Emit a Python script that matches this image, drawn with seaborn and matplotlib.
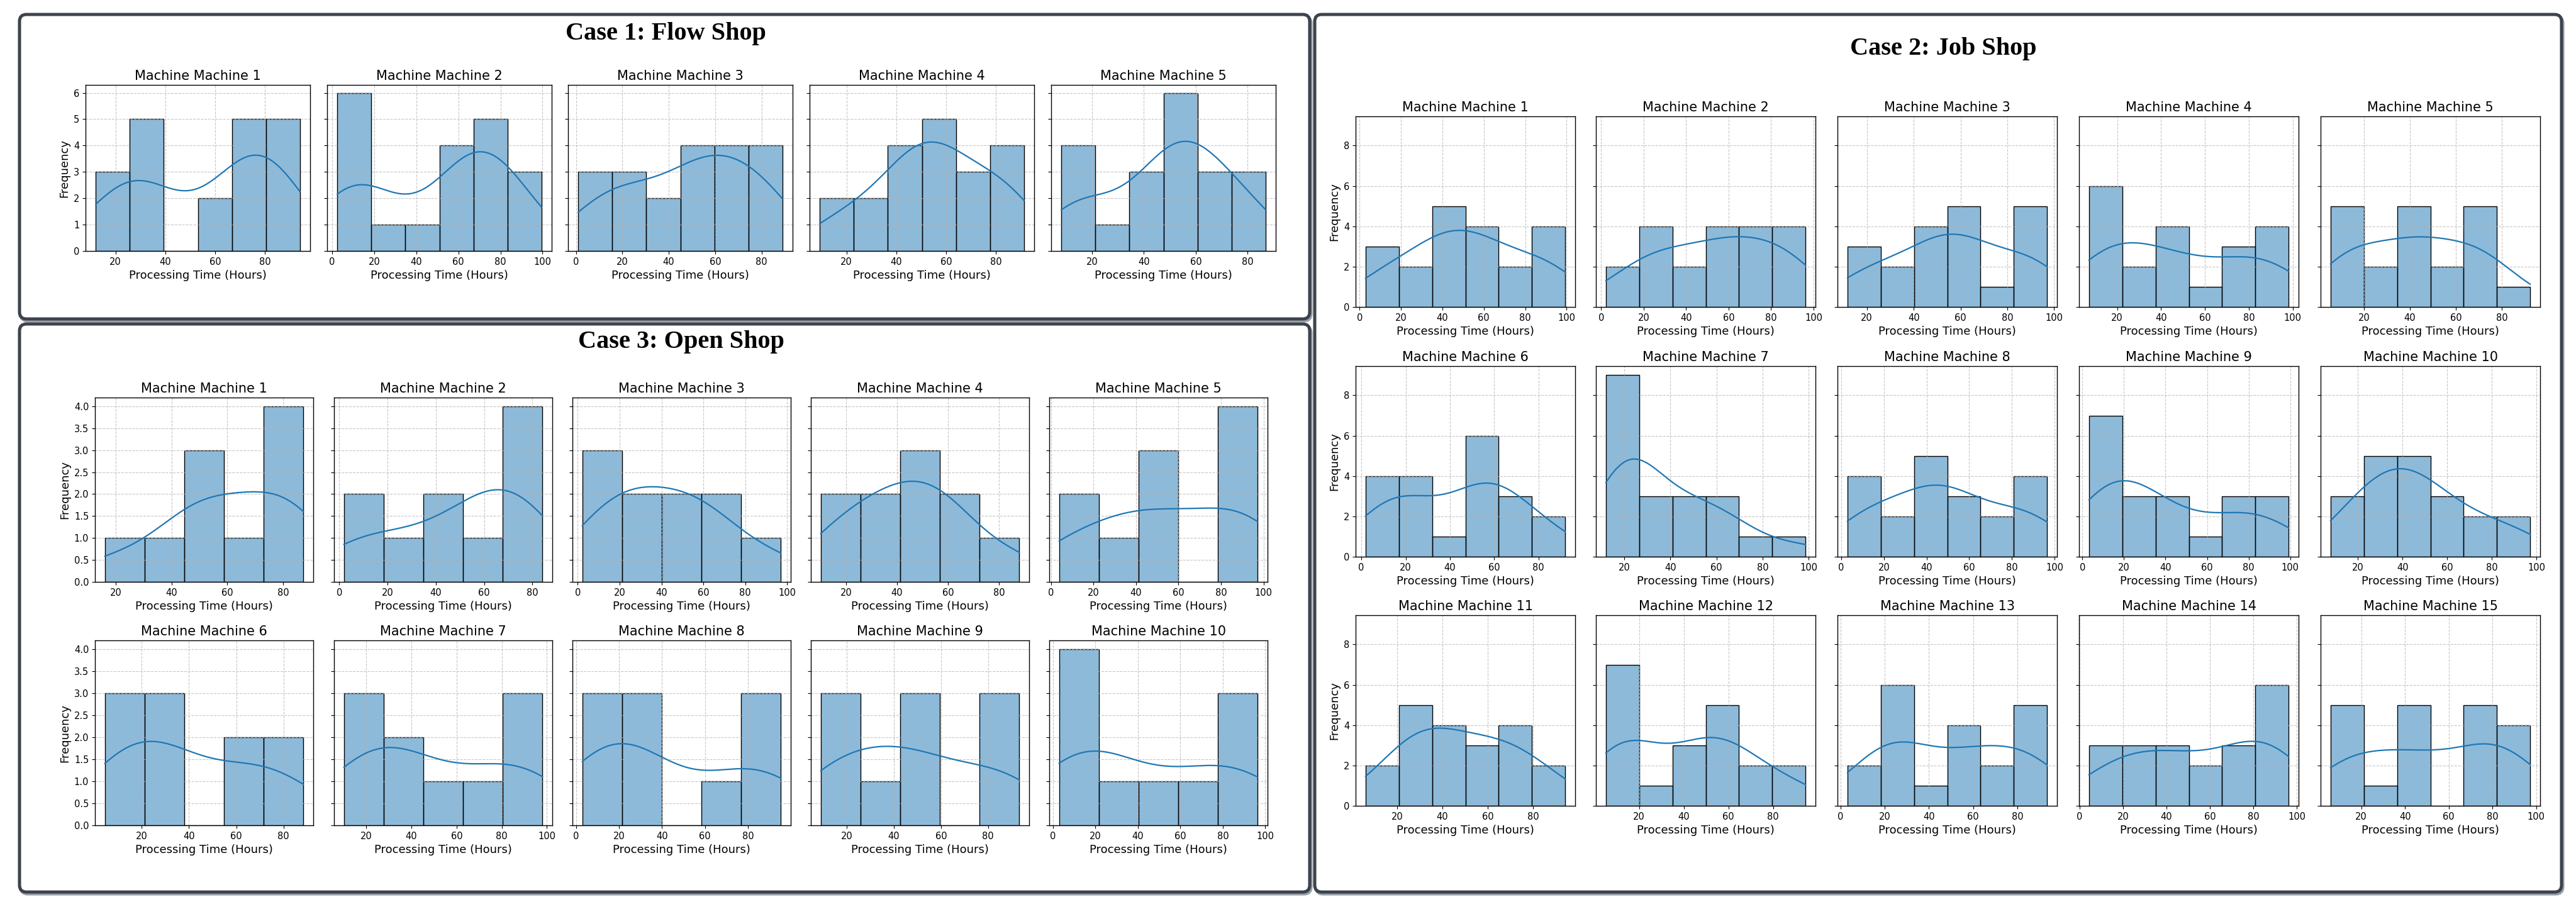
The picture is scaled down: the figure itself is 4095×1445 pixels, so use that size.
import matplotlib
matplotlib.use("Agg")
import matplotlib.pyplot as plt
import seaborn as sns
from matplotlib.patches import FancyBboxPatch
from matplotlib.ticker import MultipleLocator

# ---------------- data: processing times (hours) per machine ----------------
# Case 1: Flow Shop (20 jobs per machine)
FLOW_M1 = [12.1, 17, 22, 27, 29, 32, 35, 38, 55, 63, 67, 70, 73, 76, 79, 81, 82.5, 84, 86, 94.0]
FLOW_M2 = [2.5, 5, 8, 11, 14, 17, 27, 42, 55, 60, 63, 66, 68, 70, 73, 76, 80, 84, 87, 99.5]
FLOW_M3 = [1, 8, 13, 18, 24, 28, 35, 42, 47, 51, 54, 57, 61, 64, 68, 72, 76, 81, 85, 89]
FLOW_M4 = [9.3, 19, 27, 33, 39, 43, 46, 49, 51, 53, 56, 59, 62, 66, 70, 75, 80, 84, 88, 91.3]
FLOW_M5 = [8.2, 12, 16, 20, 30, 38, 42, 46, 49, 52, 54, 56, 58, 60, 63, 67, 71, 76, 81, 86.9]

# Case 3: Open Shop (10 jobs per machine)
OPEN_M1 = [16.1, 38, 47, 52, 56, 65, 76, 80, 84, 87.3]
OPEN_M2 = [1.9, 12, 27, 44, 50, 64, 69, 71, 74, 84.1]
OPEN_M3 = [2.2, 14, 19, 28, 36, 45, 55, 62, 70, 97.0]
OPEN_M4 = [10, 20, 28, 36, 43, 48, 54, 60, 66, 88]
OPEN_M5 = [3.9, 15, 30, 44, 50, 56, 81, 86, 92, 97.2]
OPEN_M6 = [4.4, 10, 17, 25, 31, 37, 58, 66, 76, 88.4]
OPEN_M7 = [10.1, 18, 25, 31, 38, 52, 70, 84, 90, 98.0]
OPEN_M8 = [2.9, 10, 16, 23, 29, 35, 66, 80, 87, 95.3]
OPEN_M9 = [9, 15, 22, 34, 44, 50, 56, 78, 85, 93.2]
OPEN_M10 = [3, 9, 14, 19, 30, 50, 66, 82, 89, 96.4]

# Case 2: Job Shop (20 jobs per machine)
JOB_M1 = [2.9, 10, 16, 24, 31, 36, 39, 42, 45, 49, 53, 57, 61, 65, 70, 78, 85, 90, 95, 99.3]
JOB_M2 = [2.2, 12, 20, 24, 28, 32, 38, 45, 50, 54, 58, 62, 66, 70, 75, 80, 84, 89, 93, 96.2]
JOB_M3 = [11.7, 17, 23, 28, 36, 42, 46, 50, 53, 56, 59, 62, 65, 67, 75, 85, 88, 91, 94, 97]
JOB_M4 = [7.2, 10, 13, 16, 19, 21, 27, 33, 39, 43, 47, 51, 60, 70, 75, 80, 86, 90, 94, 98.1]
JOB_M5 = [5.5, 9, 12, 15, 18, 24, 30, 36, 39, 42, 45, 48, 53, 58, 65, 68, 71, 74, 77, 92.3]
JOB_M6 = [1.9, 6, 10, 14, 18, 22, 26, 30, 40, 48, 51, 53, 56, 58, 61, 65, 70, 74, 82, 92.1]
JOB_M7 = [12.1, 14, 16, 18, 20, 21, 23, 24, 26, 29, 33, 38, 43, 48, 52, 58, 62, 67, 78, 98.6]
JOB_M8 = [2.9, 8, 12, 16, 22, 30, 36, 40, 43, 46, 48, 51, 56, 60, 70, 76, 84, 88, 92, 96.5]
JOB_M9 = [3.2, 6, 9, 12, 14, 16, 18, 22, 26, 30, 37, 42, 47, 58, 70, 75, 80, 86, 92, 99.2]
JOB_M10 = [7.8, 14, 19, 24, 28, 31, 34, 36, 39, 42, 45, 48, 51, 56, 60, 65, 72, 80, 88, 97.1]
JOB_M11 = [6.1, 15, 22, 25, 28, 31, 34, 37, 41, 45, 49, 53, 58, 62, 66, 70, 74, 78, 86, 94.1]
JOB_M12 = [5.1, 8, 10, 12, 14, 16, 19, 28, 37, 42, 47, 50, 53, 56, 59, 62, 68, 75, 84, 94.5]
JOB_M13 = [3.2, 12, 19, 21, 24, 26, 28, 31, 40, 50, 55, 58, 61, 66, 73, 80, 83, 86, 90, 93.4]
JOB_M14 = [4.3, 10, 16, 22, 27, 32, 37, 42, 47, 54, 60, 68, 73, 78, 82, 85, 88, 91, 94, 96.2]
JOB_M15 = [6, 10, 14, 17, 20, 28, 38, 42, 45, 48, 51, 68, 71, 74, 77, 80, 85, 89, 93, 97.2]

FLOW_SHOP = [FLOW_M1, FLOW_M2, FLOW_M3, FLOW_M4, FLOW_M5]
OPEN_SHOP = [OPEN_M1, OPEN_M2, OPEN_M3, OPEN_M4, OPEN_M5,
             OPEN_M6, OPEN_M7, OPEN_M8, OPEN_M9, OPEN_M10]
JOB_SHOP = [JOB_M1, JOB_M2, JOB_M3, JOB_M4, JOB_M5, JOB_M6, JOB_M7, JOB_M8,
            JOB_M9, JOB_M10, JOB_M11, JOB_M12, JOB_M13, JOB_M14, JOB_M15]

CASE_TITLES = ["Case 1: Flow Shop", "Case 2: Job Shop", "Case 3: Open Shop"]
X_LABEL = "Processing Time (Hours)"
Y_LABEL = "Frequency"

# ---------------- figure ----------------
plt.style.use("default")
plt.rcParams["font.family"] = ["DejaVu Sans"]
plt.rcParams["axes.linewidth"] = 1.0

W, H = 4095, 1445
fig = plt.figure(figsize=(W / 100, H / 100), dpi=100)
fig.patch.set_facecolor("white")

BORDER = "#3d434c"
SHADOW = "#9aa0a7"


def frame(x0, y0, x1, y1):
    """Rounded frame, coordinates in pixels from the top-left corner."""
    for dx, dy, col, z in [(2, 3, SHADOW, 0), (0, 0, BORDER, 1)]:
        p = FancyBboxPatch(((x0 + dx) / 100, (H - y1 - dy) / 100),
                           (x1 - x0) / 100, (y1 - y0) / 100,
                           boxstyle="round,pad=0,rounding_size=0.11",
                           transform=fig.dpi_scale_trans,
                           facecolor="white", edgecolor=col,
                           linewidth=3.6, zorder=z)
        fig.patches.append(p)


frame(31, 23, 2082, 507)      # Case 1
frame(31, 515, 2082, 1418)    # Case 3
frame(2090, 23, 4072, 1418)   # Case 2

title_font = dict(family=["Liberation Serif", "DejaVu Serif"], weight="bold",
                  fontsize=29, ha="center", va="center")
fig.text(1058 / W, 1 - 53 / H, CASE_TITLES[0], **title_font)
fig.text(3089 / W, 1 - 78 / H, CASE_TITLES[1], **title_font)
fig.text(1083 / W, 1 - 543 / H, CASE_TITLES[2], **title_font)


def draw_case(machines, lefts, width, rows, nbins, ystep):
    first = None
    for i, vals in enumerate(machines):
        r, c = divmod(i, 5)
        top, bottom = rows[r]
        rect = [lefts[c] / W, 1 - bottom / H, width / W, (bottom - top) / H]
        ax = fig.add_axes(rect, sharey=first)
        if first is None:
            first = ax
        sns.histplot(x=vals, bins=nbins, kde=True, ax=ax, color="#1f77b4",
                     edgecolor="black", linewidth=1.0,
                     line_kws=dict(linewidth=1.6))
        ax.set_title(f"Machine Machine {i + 1}", fontsize=15)
        ax.set_xlabel(X_LABEL, fontsize=13)
        if c == 0:
            ax.set_ylabel(Y_LABEL, fontsize=13)
        else:
            ax.set_ylabel("")
            ax.tick_params(labelleft=False)
        ax.tick_params(labelsize=10.5)
        ax.grid(True, linestyle="--", alpha=0.7)
        ax.set_zorder(5)
    first.yaxis.set_major_locator(MultipleLocator(ystep))


draw_case(FLOW_SHOP, [136, 520, 903, 1287, 1671], 357, [(135, 399)], 6, 1)
draw_case(OPEN_SHOP, [151, 531, 910, 1289, 1668], 347,
          [(632, 925), (1018, 1312)], 5, 0.5)
draw_case(JOB_SHOP, [2155, 2537, 2921, 3305, 3689], 349,
          [(185, 488), (582, 885), (978, 1281)], 6, 2)

fig.savefig("out.png", dpi=100, facecolor="white")
